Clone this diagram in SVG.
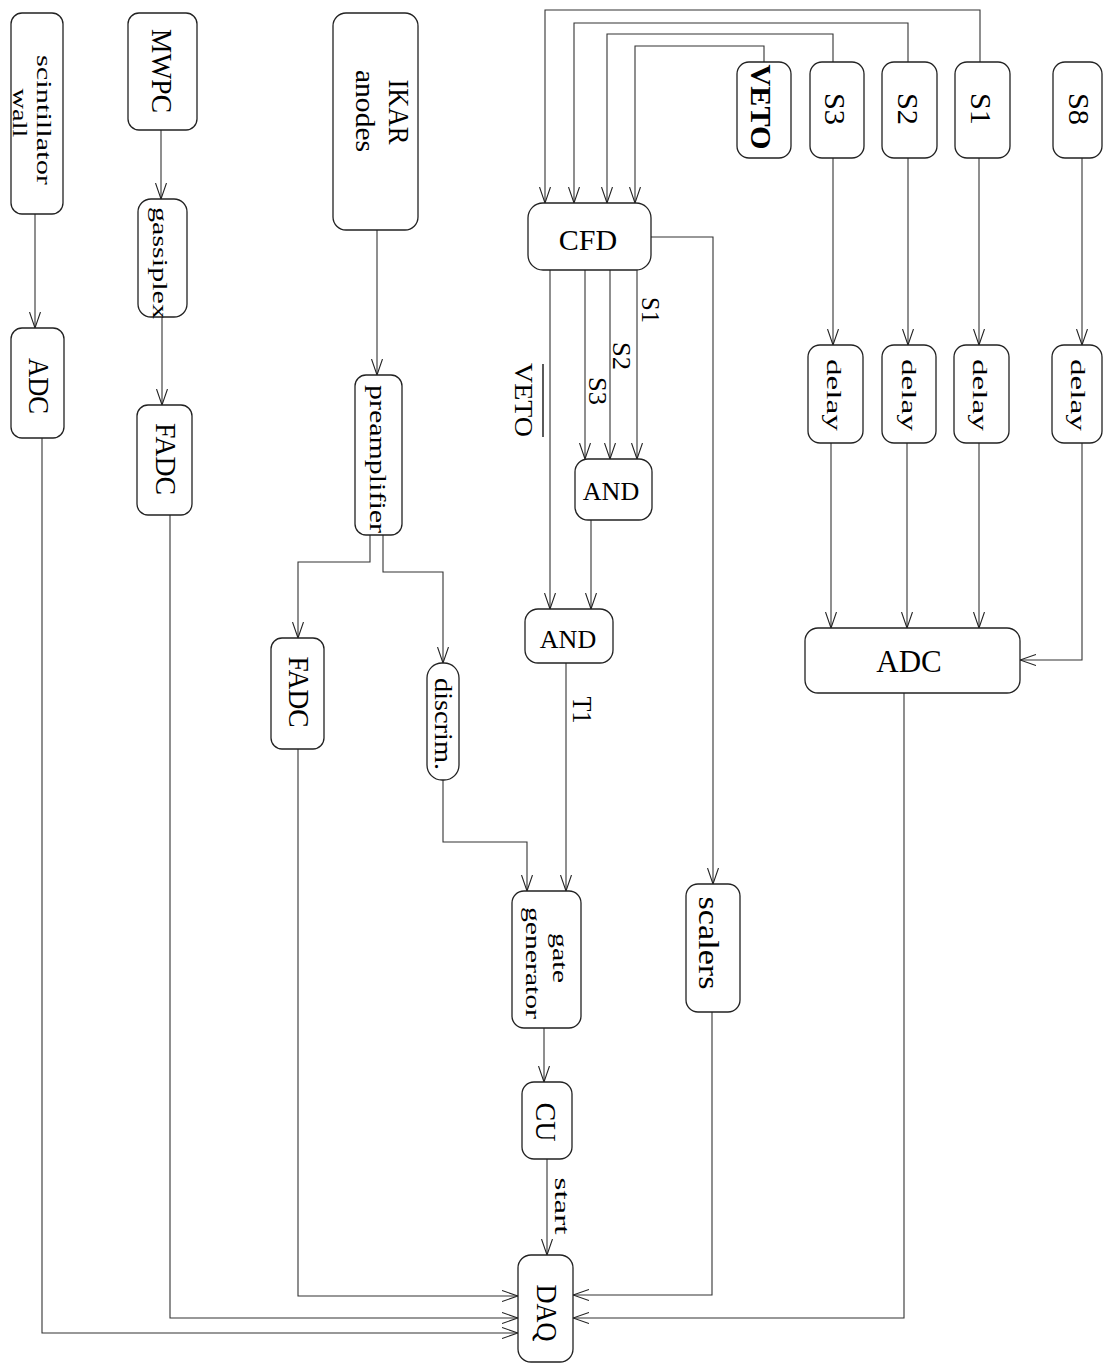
<svg xmlns="http://www.w3.org/2000/svg" width="1103" height="1365" viewBox="0 0 1103 1365">
<style>
.b{fill:#fff;stroke:#222;stroke-width:1.3}
.c{fill:none;stroke:#333;stroke-width:1.1}
.t{font-family:"Liberation Serif","Times New Roman",serif;fill:#000;text-anchor:middle}
</style>
<defs>
<marker id="ar" markerUnits="userSpaceOnUse" viewBox="0 0 16 12" refX="16" refY="6" markerWidth="16" markerHeight="12" orient="auto">
<path d="M0,0.5 L16,6 L0,11.5" fill="none" stroke="#222" stroke-width="1.1"/>
</marker>
</defs>
<rect width="1103" height="1365" fill="#fff"/>

<g id="connectors" class="c" marker-end="url(#ar)">
<path d="M35,214 V328"/>
<path d="M161,130 V199"/>
<path d="M162,317 V405"/>
<path d="M377,230 V375"/>
<path d="M370,535 V562 H298 V638"/>
<path d="M383,535 V572 H443 V663"/>
<path d="M443,780 V842 H527 V891"/>
<path d="M566,663 V891"/>
<path d="M544,1028 V1082"/>
<path d="M547,1159 V1255"/>
<path d="M42,438 V1333 H518"/>
<path d="M170,515 V1318 H518"/>
<path d="M298,749 V1296 H518"/>
<path d="M712,1012 V1295 H573"/>
<path d="M904,693 V1318 H573"/>
<path d="M651,237 H713 V884"/>
<path d="M585,270 V459"/>
<path d="M610,270 V459"/>
<path d="M637,270 V459"/>
<path d="M550,270 V609"/>
<path d="M591,520 V609"/>
<path d="M980,62 V10 H545 V203"/>
<path d="M908,62 V23 H574 V203"/>
<path d="M833,62 V34 H607 V203"/>
<path d="M764,62 V46 H635 V203"/>
<path d="M833,158 V345"/>
<path d="M908,158 V345"/>
<path d="M979,158 V345"/>
<path d="M1082,158 V345"/>
<path d="M831,443 V628"/>
<path d="M907,443 V628"/>
<path d="M979,443 V628"/>
<path d="M1082,443 V660 H1020"/>
</g>

<g id="edge-labels" class="t">
<text transform="translate(642,310) rotate(90)" font-size="26" textLength="26" lengthAdjust="spacingAndGlyphs">S1</text>
<text transform="translate(613,356) rotate(90)" font-size="26" textLength="28" lengthAdjust="spacingAndGlyphs">S2</text>
<text transform="translate(589,391) rotate(90)" font-size="26" textLength="28" lengthAdjust="spacingAndGlyphs">S3</text>
<text transform="translate(515,400) rotate(90)" font-size="26" textLength="74" lengthAdjust="spacingAndGlyphs">VETO</text>
<line x1="543" y1="364" x2="543" y2="437" stroke="#000" stroke-width="1.3"/>
<text transform="translate(573,710) rotate(90)" font-size="28" textLength="27" lengthAdjust="spacingAndGlyphs">T1</text>
<text transform="translate(555,1206) rotate(90)" font-size="20" textLength="57" lengthAdjust="spacingAndGlyphs">start</text>
</g>

<g id="scintillator-wall"><rect class="b" x="11" y="13" width="52" height="201" rx="11"/>
<text class="t" transform="translate(37,120) rotate(90)" font-size="22" textLength="130" lengthAdjust="spacingAndGlyphs">scintillator</text>
<text class="t" transform="translate(13,113) rotate(90)" font-size="22" textLength="49" lengthAdjust="spacingAndGlyphs">wall</text></g>

<g id="adc-left"><rect class="b" x="11" y="328" width="53" height="110" rx="11"/>
<text class="t" transform="translate(29,386) rotate(90)" font-size="29" textLength="56" lengthAdjust="spacingAndGlyphs">ADC</text></g>

<g id="mwpc"><rect class="b" x="128" y="13" width="69" height="117" rx="11"/>
<text class="t" transform="translate(152,71) rotate(90)" font-size="29" textLength="84" lengthAdjust="spacingAndGlyphs">MWPC</text></g>

<g id="gassiplex"><rect class="b" x="138" y="199" width="49" height="118" rx="13"/>
<text class="t" transform="translate(153,263) rotate(90)" font-size="22" textLength="112" lengthAdjust="spacingAndGlyphs">gassiplex</text></g>

<g id="fadc-1"><rect class="b" x="137" y="405" width="55" height="110" rx="11"/>
<text class="t" transform="translate(156,459) rotate(90)" font-size="29" textLength="72" lengthAdjust="spacingAndGlyphs">FADC</text></g>

<g id="ikar-anodes"><rect class="b" x="333" y="13" width="85" height="217" rx="13"/>
<text class="t" transform="translate(389,112) rotate(90)" font-size="29" textLength="65" lengthAdjust="spacingAndGlyphs">IKAR</text>
<text class="t" transform="translate(356,111) rotate(90)" font-size="28" textLength="82" lengthAdjust="spacingAndGlyphs">anodes</text></g>

<g id="preamplifier"><rect class="b" x="355" y="375" width="47" height="160" rx="11"/>
<text class="t" transform="translate(370,459) rotate(90)" font-size="24" textLength="148" lengthAdjust="spacingAndGlyphs">preamplifier</text></g>

<g id="fadc-2"><rect class="b" x="271" y="638" width="53" height="111" rx="11"/>
<text class="t" transform="translate(289,692) rotate(90)" font-size="29" textLength="71" lengthAdjust="spacingAndGlyphs">FADC</text></g>

<g id="discrim"><rect class="b" x="427" y="663" width="32" height="117" rx="15"/>
<text class="t" transform="translate(435,724) rotate(90)" font-size="26" textLength="92" lengthAdjust="spacingAndGlyphs">discrim.</text></g>

<g id="gate-generator"><rect class="b" x="512" y="891" width="69" height="137" rx="12"/>
<text class="t" transform="translate(553,958) rotate(90)" font-size="22" textLength="50" lengthAdjust="spacingAndGlyphs">gate</text>
<text class="t" transform="translate(526,963) rotate(90)" font-size="22" textLength="112" lengthAdjust="spacingAndGlyphs">generator</text></g>

<g id="cu"><rect class="b" x="522" y="1082" width="50" height="77" rx="12"/>
<text class="t" transform="translate(536,1122) rotate(90)" font-size="29" textLength="39" lengthAdjust="spacingAndGlyphs">CU</text></g>

<g id="daq"><rect class="b" x="518" y="1255" width="55" height="107" rx="13"/>
<text class="t" transform="translate(537,1313) rotate(90)" font-size="29" textLength="57" lengthAdjust="spacingAndGlyphs">DAQ</text></g>

<g id="scalers"><rect class="b" x="686" y="884" width="54" height="128" rx="12"/>
<text class="t" transform="translate(699,943) rotate(90)" font-size="30" textLength="93" lengthAdjust="spacingAndGlyphs">scalers</text></g>

<g id="cfd"><rect class="b" x="528" y="203" width="123" height="67" rx="15"/>
<text class="t" x="588" y="250" font-size="30">CFD</text></g>

<g id="and-1"><rect class="b" x="575" y="459" width="77" height="61" rx="13"/>
<text class="t" x="611" y="500" font-size="26">AND</text></g>

<g id="and-2"><rect class="b" x="525" y="609" width="88" height="54" rx="13"/>
<text class="t" x="568" y="648" font-size="26">AND</text></g>

<g id="veto"><rect class="b" x="737" y="62" width="54" height="96" rx="12"/>
<text class="t" transform="translate(751,107) rotate(90)" font-size="29" font-weight="bold" textLength="85" lengthAdjust="spacingAndGlyphs">VETO</text></g>

<g id="s3"><rect class="b" x="810" y="62" width="54" height="96" rx="12"/>
<text class="t" transform="translate(825,109) rotate(90)" font-size="30" textLength="32" lengthAdjust="spacingAndGlyphs">S3</text></g>

<g id="s2"><rect class="b" x="882" y="62" width="55" height="96" rx="12"/>
<text class="t" transform="translate(898,109) rotate(90)" font-size="30" textLength="32" lengthAdjust="spacingAndGlyphs">S2</text></g>

<g id="s1"><rect class="b" x="955" y="62" width="55" height="96" rx="12"/>
<text class="t" transform="translate(971,109) rotate(90)" font-size="30" textLength="32" lengthAdjust="spacingAndGlyphs">S1</text></g>

<g id="s8"><rect class="b" x="1053" y="62" width="49" height="96" rx="12"/>
<text class="t" transform="translate(1069,109) rotate(90)" font-size="30" textLength="32" lengthAdjust="spacingAndGlyphs">S8</text></g>

<g id="delay-s3"><rect class="b" x="808" y="345" width="55" height="98" rx="12"/>
<text class="t" transform="translate(827,395) rotate(90)" font-size="22" textLength="72" lengthAdjust="spacingAndGlyphs">delay</text></g>

<g id="delay-s2"><rect class="b" x="882" y="345" width="54" height="98" rx="12"/>
<text class="t" transform="translate(902,395) rotate(90)" font-size="22" textLength="72" lengthAdjust="spacingAndGlyphs">delay</text></g>

<g id="delay-s1"><rect class="b" x="954" y="345" width="55" height="98" rx="12"/>
<text class="t" transform="translate(973,395) rotate(90)" font-size="22" textLength="72" lengthAdjust="spacingAndGlyphs">delay</text></g>

<g id="delay-s8"><rect class="b" x="1052" y="345" width="50" height="98" rx="12"/>
<text class="t" transform="translate(1071,395) rotate(90)" font-size="22" textLength="72" lengthAdjust="spacingAndGlyphs">delay</text></g>

<g id="adc-main"><rect class="b" x="805" y="628" width="215" height="65" rx="13"/>
<text class="t" x="909" y="672" font-size="31">ADC</text></g>
</svg>
